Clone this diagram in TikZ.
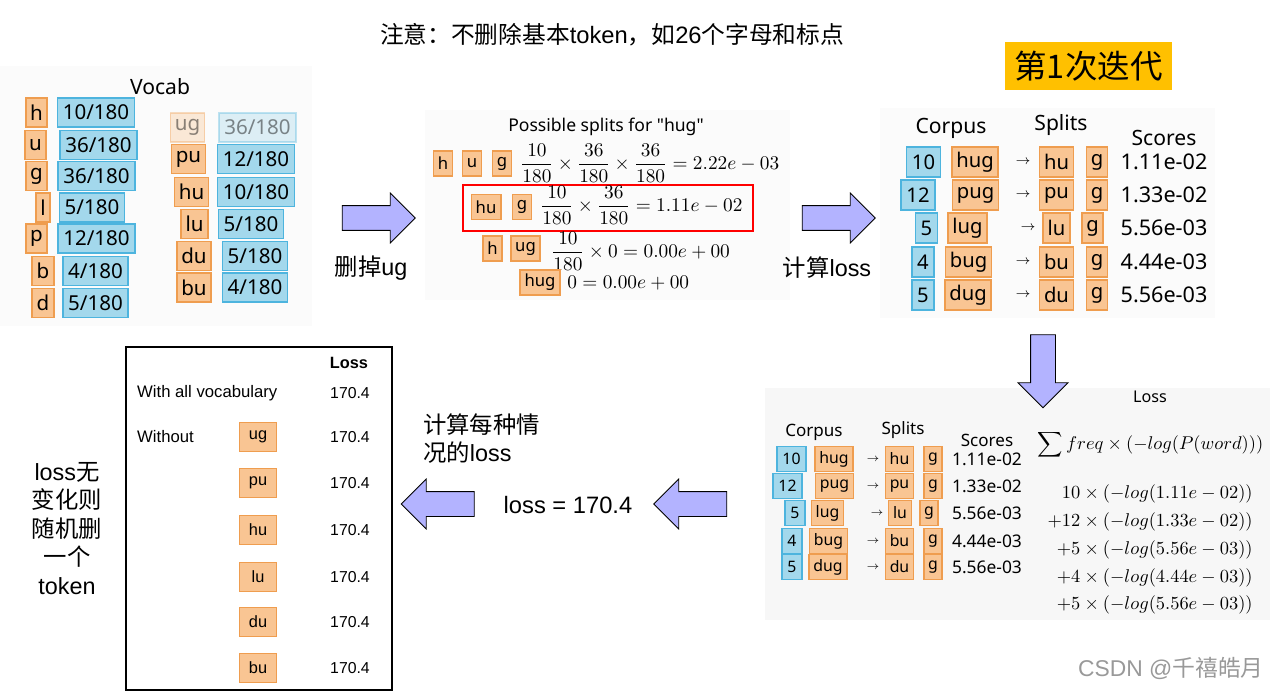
\RequirePackage{fix-cm}
\documentclass[tikz,border=0pt]{standalone}
\usepackage[no-math]{fontspec}
\setmainfont{Liberation Sans}
\newfontfamily\cjk{Noto Sans CJK SC}
\newfontfamily\slidesans{Noto Sans}
\usetikzlibrary{shapes.arrows}
\definecolor{orfill}{HTML}{F9C593}
\definecolor{orline}{HTML}{EF9D4F}
\definecolor{blfill}{HTML}{A3D8EC}
\definecolor{blline}{HTML}{4DB4DE}
\definecolor{arrowfill}{HTML}{B3B3FF}
\definecolor{iterfill}{HTML}{FFC000}
\newcommand{\zh}[1]{{\cjk #1}}
\newcommand{\fsz}[2]{\fontsize{#1}{#2}\selectfont}

\begin{document}
\begin{tikzpicture}[
  x=0.02cm, y=-0.02cm,
  tok/.style={draw=orline, fill=orfill, line width=0.9pt, inner xsep=2.5pt, inner ysep=0pt},
  frq/.style={draw=blline, fill=blfill, line width=0.9pt, inner xsep=3pt, inner ysep=0pt},
  faded/.style={opacity=0.35, text opacity=0.45},
  vsz/.style={font=\slidesans\fsz{11.7}{14}, minimum height=5.8mm},
  ssz/.style={font=\slidesans\fsz{9.5}{11}, minimum height=5mm},
  tsz/.style={font=\slidesans\fsz{11.5}{14}, minimum height=6mm},
  bsz/.style={font=\slidesans\fsz{9}{11}, minimum height=5mm},
  lsz/.style={font=\fsz{9.3}{11}, minimum height=5.8mm, minimum width=7.4mm},
  head/.style={font=\slidesans\fsz{12}{14}},
  bhead/.style={font=\slidesans\fsz{9.7}{12}},
  tscore/.style={font=\slidesans\fsz{12.3}{14}},
  bscore/.style={font=\slidesans\fsz{9.9}{12}},
  mth/.style={font=\fsz{11}{13}, anchor=west, inner sep=0pt},
  zhtext/.style={font=\fsz{13.3}{16.2}},
  blockarrow/.style={single arrow, draw=black, line width=0.5pt, fill=arrowfill,
    inner xsep=0pt, inner ysep=2.4mm, single arrow head extend=2.5mm, minimum height=14.6mm}
]
\useasboundingbox (0,0) rectangle (1270,692);
% faint backgrounds of the pasted slides
\fill[black!1.5] (0,66) rectangle (312,326);
\fill[black!1.5] (425,110) rectangle (790,300);
\fill[black!1.5] (880,108) rectangle (1215,318);
\fill[black!3] (765,388) rectangle (1270,620);

\node[font=\fsz{13.5}{16}] (note) at (612,35) {\zh{注意：不删除基本}token\zh{，如}26\zh{个字母和标点}};
\node[fill=iterfill, minimum width=33.4mm, minimum height=9.6mm, font=\cjk\fsz{18.5}{22}] (iter) at (1088.5,66) {第1次迭代};

% vocab
\node[head] (vocab) at (160,87) {Vocab};
\node[vsz, tok] (vh) at (36.5,112.5) {h};
\node[vsz, tok] (vu) at (35.5,145) {u};
\node[vsz, tok] (vg) at (36.5,176) {g};
\node[vsz, tok] (vl) at (43,207.5) {l};
\node[vsz, tok] (vp) at (36.5,238.5) {p};
\node[vsz, tok] (vb) at (43,271) {b};
\node[vsz, tok] (vd) at (43,303) {d};
\node[vsz, frq] (fh) at (96,112.5) {10/180};
\node[vsz, frq] (fu) at (98.5,145) {36/180};
\node[vsz, frq] (fg) at (96.5,176) {36/180};
\node[vsz, frq] (fl) at (92,207.5) {5/180};
\node[vsz, frq] (fp) at (96.5,238.5) {12/180};
\node[vsz, frq] (fb) at (95.5,271) {4/180};
\node[vsz, frq] (fd) at (95.5,303) {5/180};
\node[vsz, tok, faded] (vug) at (187.5,127.5) {ug};
\node[vsz, tok] (vpu) at (188.5,159) {pu};
\node[vsz, tok] (vhu) at (191.5,192) {hu};
\node[vsz, tok] (vlu) at (194.5,224) {lu};
\node[vsz, tok] (vdu) at (194,256) {du};
\node[vsz, tok] (vbu) at (194,287.5) {bu};
\node[vsz, frq, faded] (fug) at (257.5,127.5) {36/180};
\node[vsz, frq] (fpu) at (256,159) {12/180};
\node[vsz, frq] (fhu) at (256,192) {10/180};
\node[vsz, frq] (flu) at (251,224) {5/180};
\node[vsz, frq] (fdu) at (255,256) {5/180};
\node[vsz, frq] (fbu) at (255,287.5) {4/180};

\node[blockarrow] (drop) at (372.5,218) {};
\node[zhtext] (droplabel) at (371,268) {\zh{删掉}ug};

% possible splits of hug
\node[font=\slidesans\fsz{10}{12}] (splits) at (606,127) {Possible splits for "hug"};
\node[ssz, tok] (s1h) at (443,163.5) {h};
\node[ssz, tok] (s1u) at (472,163.5) {u};
\node[ssz, tok] (s1g) at (502,163.5) {g};
\node[mth] (s1m) at (520,163.5) {$\displaystyle\frac{10}{180}\times\frac{36}{180}\times\frac{36}{180}=2.22e-03$};
\node[draw=red, line width=1.2pt, minimum width=58mm, minimum height=9.2mm] (pick) at (608,208) {};
\node[ssz, tok] (s2hu) at (486,207) {hu};
\node[ssz, tok] (s2g) at (522,207) {g};
\node[mth] (s2m) at (540,205.5) {$\displaystyle\frac{10}{180}\times\frac{36}{180}=1.11e-02$};
\node[ssz, tok] (s3h) at (492.5,248.5) {h};
\node[ssz, tok] (s3ug) at (525.5,248.5) {ug};
\node[mth] (s3m) at (551,251) {$\displaystyle\frac{10}{180}\times0=0.00e+00$};
\node[ssz, tok] (s4hug) at (540,282.5) {hug};
\node[mth] (s4m) at (567,283) {$0=0.00e+00$};

\node[blockarrow] (calc) at (832.5,218) {};
\node[zhtext] (calclabel) at (827,268) {\zh{计算}loss};

% corpus scores, top
\node[head] (tcorpus) at (951,128) {Corpus};
\node[head] (tsplits) at (1061,125) {Splits};
\node[head] (tscores) at (1164,138) {Scores};
\node[tsz, frq] (tc1) at (923.5,162) {10};
\node[tsz, tok] (tw1) at (975,162) {hug};
\node[font=\fsz{7.5}{9}] (ta1) at (1023,162) {$\rightarrow$};
\node[tsz, tok] (ts1) at (1056.5,162) {hu};
\node[tsz, tok] (tg1) at (1097,162) {g};
\node[tscore] (tv1) at (1164,162) {1.11e-02};
\node[tsz, frq] (tc2) at (918,195) {12};
\node[tsz, tok] (tw2) at (975.5,195) {pug};
\node[font=\fsz{7.5}{9}] (ta2) at (1023,195) {$\rightarrow$};
\node[tsz, tok] (ts2) at (1056.5,195) {pu};
\node[tsz, tok] (tg2) at (1097,195) {g};
\node[tscore] (tv2) at (1164,195) {1.33e-02};
\node[tsz, frq] (tc3) at (926.5,228) {5};
\node[tsz, tok] (tw3) at (967.5,228) {lug};
\node[font=\fsz{7.5}{9}] (ta3) at (1028,228) {$\rightarrow$};
\node[tsz, tok] (ts3) at (1056.5,228) {lu};
\node[tsz, tok] (tg3) at (1092.5,228) {g};
\node[tscore] (tv3) at (1164,228) {5.56e-03};
\node[tsz, frq] (tc4) at (923,262) {4};
\node[tsz, tok] (tw4) at (968.5,262) {bug};
\node[font=\fsz{7.5}{9}] (ta4) at (1023,262) {$\rightarrow$};
\node[tsz, tok] (ts4) at (1056.5,262) {bu};
\node[tsz, tok] (tg4) at (1097,262) {g};
\node[tscore] (tv4) at (1164,262) {4.44e-03};
\node[tsz, frq] (tc5) at (923,295) {5};
\node[tsz, tok] (tw5) at (968,295) {dug};
\node[font=\fsz{7.5}{9}] (ta5) at (1023,295) {$\rightarrow$};
\node[tsz, tok] (ts5) at (1056.5,295) {du};
\node[tsz, tok] (tg5) at (1097,295) {g};
\node[tscore] (tv5) at (1164,295) {5.56e-03};

\node[blockarrow, rotate=-90] (down) at (1043,365) {};

% corpus scores and loss, bottom
\node[bhead, font=\slidesans\fsz{9.2}{11}] (bloss) at (1150,397) {Loss};
\node[bhead] (bcorpus) at (814,432) {Corpus};
\node[bhead] (bsplits) at (903,430) {Splits};
\node[bhead] (bscores) at (987,440) {Scores};
\node[bsz, frq] (bc1) at (791.5,459) {10};
\node[bsz, tok] (bw1) at (834,459) {hug};
\node[font=\fsz{6}{7}] (ba1) at (873,459) {$\rightarrow$};
\node[bsz, tok] (bs1) at (899.5,459) {hu};
\node[bsz, tok] (bg1) at (933,459) {g};
\node[bscore] (bv1) at (987,459) {1.11e-02};
\node[bsz, frq] (bc2) at (787.5,486) {12};
\node[bsz, tok] (bw2) at (834.5,486) {pug};
\node[font=\fsz{6}{7}] (ba2) at (873,486) {$\rightarrow$};
\node[bsz, tok] (bs2) at (899.5,486) {pu};
\node[bsz, tok] (bg2) at (933,486) {g};
\node[bscore] (bv2) at (987,486) {1.33e-02};
\node[bsz, frq] (bc3) at (795,513) {5};
\node[bsz, tok] (bw3) at (827.5,513) {lug};
\node[font=\fsz{6}{7}] (ba3) at (877,513) {$\rightarrow$};
\node[bsz, tok] (bs3) at (900,513) {lu};
\node[bsz, tok] (bg3) at (929,513) {g};
\node[bscore] (bv3) at (987,513) {5.56e-03};
\node[bsz, frq] (bc4) at (792,541) {4};
\node[bsz, tok] (bw4) at (828.5,541) {bug};
\node[font=\fsz{6}{7}] (ba4) at (873,541) {$\rightarrow$};
\node[bsz, tok] (bs4) at (899.5,541) {bu};
\node[bsz, tok] (bg4) at (933,541) {g};
\node[bscore] (bv4) at (987,541) {4.44e-03};
\node[bsz, frq] (bc5) at (792,567) {5};
\node[bsz, tok] (bw5) at (828,567) {dug};
\node[font=\fsz{6}{7}] (ba5) at (873,567) {$\rightarrow$};
\node[bsz, tok] (bs5) at (899.5,567) {du};
\node[bsz, tok] (bg5) at (933,567) {g};
\node[bscore] (bv5) at (987,567) {5.56e-03};
\node[font=\fsz{10.5}{13}, inner sep=0pt] (bsum) at (1150.5,445) {$\displaystyle\sum freq\times(-log(P(word)))$};
\node[font=\fsz{10.5}{13}, anchor=east, inner sep=0pt] (bt1) at (1253,494) {$10\times(-log(1.11e-02))$};
\node[font=\fsz{10.5}{13}, anchor=east, inner sep=0pt] (bt2) at (1253,522) {$+12\times(-log(1.33e-02))$};
\node[font=\fsz{10.5}{13}, anchor=east, inner sep=0pt] (bt3) at (1253,550) {$+5\times(-log(5.56e-03))$};
\node[font=\fsz{10.5}{13}, anchor=east, inner sep=0pt] (bt4) at (1253,578) {$+4\times(-log(4.44e-03))$};
\node[font=\fsz{10.5}{13}, anchor=east, inner sep=0pt] (bt5) at (1253,605) {$+5\times(-log(5.56e-03))$};

\node[blockarrow, rotate=180] (back1) at (696.5,504) {};
\node[font=\fsz{13.5}{16}] (lossval) at (568,505) {loss = 170.4};
\node[blockarrow, rotate=180] (back2) at (444,504) {};
\node[zhtext, align=left, anchor=west] (each) at (417,438.5) {\zh{计算每种情}\\\zh{况的}loss};

% loss table
\node[draw=black, line width=0.9pt, minimum width=53.2mm, minimum height=68.6mm] (lossframe) at (259,518.5) {};
\node[font=\bfseries\fsz{9.3}{11}] (losshead) at (349,363) {Loss};
\node[font=\fsz{9.5}{11}, anchor=west] (lall) at (131,393) {With all vocabulary};
\node[font=\fsz{9}{11}] (lallv) at (350,393) {170.4};
\node[font=\fsz{9.5}{11}, anchor=west] (lwo) at (131,437) {Without};
\node[lsz, tok] (lug) at (258,437) {ug};
\node[font=\fsz{9}{11}] (lugv) at (350,437) {170.4};
\node[lsz, tok] (lpu) at (258,483) {pu};
\node[font=\fsz{9}{11}] (lpuv) at (350,483) {170.4};
\node[lsz, tok] (lhu) at (258,530) {hu};
\node[font=\fsz{9}{11}] (lhuv) at (350,530) {170.4};
\node[lsz, tok] (llu) at (258,577) {lu};
\node[font=\fsz{9}{11}] (lluv) at (350,577) {170.4};
\node[lsz, tok] (ldu) at (258,622) {du};
\node[font=\fsz{9}{11}] (lduv) at (350,622) {170.4};
\node[lsz, tok] (lbu) at (258,668) {bu};
\node[font=\fsz{9}{11}] (lbuv) at (350,668) {170.4};

\node[zhtext, align=center] (rule) at (67,528.5) {loss\zh{无}\\\zh{变化则}\\\zh{随机删}\\\zh{一个}\\token};

\node[font=\fsz{13}{15}, text=black!40] (csdn) at (1171,668) {CSDN @\zh{千禧皓月}};
\end{tikzpicture}
\end{document}
